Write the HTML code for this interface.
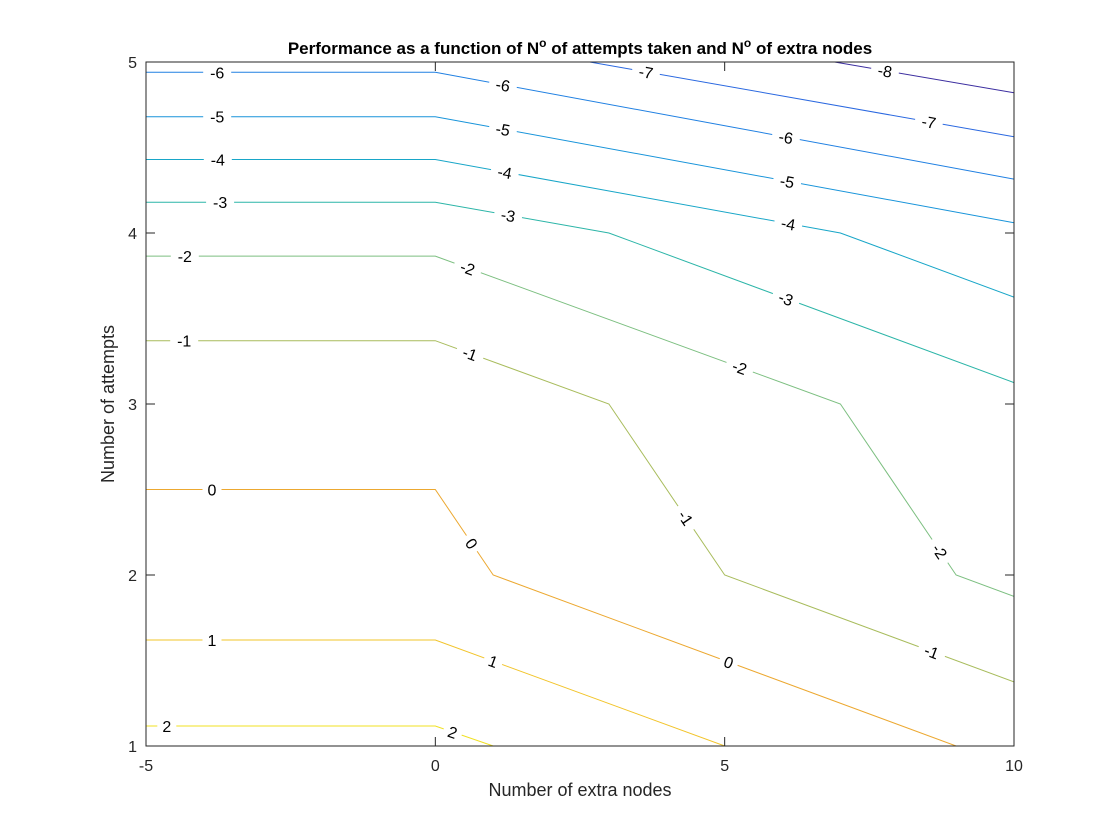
<!DOCTYPE html>
<html><head><meta charset="utf-8"><style>
html,body{margin:0;padding:0;background:#fff;}
svg{display:block;font-family:"Liberation Sans",Arial,sans-serif;}
</style></head><body>
<svg id="chart" width="1120" height="840" viewBox="0 0 1120 840" xmlns="http://www.w3.org/2000/svg">
<rect x="0" y="0" width="1120" height="840" fill="#fff"/>
<text x="580" y="54" text-anchor="middle" font-size="17" font-weight="bold" fill="#000">Performance as a function of N<tspan dy="-7" font-size="12">o</tspan><tspan dy="7"> of attempts taken and N</tspan><tspan dy="-7" font-size="12">o</tspan><tspan dy="7"> of extra nodes</tspan></text>
<g id="plot"></g>
<text x="580" y="796" text-anchor="middle" font-size="18" fill="#262626">Number of extra nodes</text>
<text transform="translate(114,404) rotate(-90)" text-anchor="middle" font-size="18" fill="#262626">Number of attempts</text>
</svg>
<script>
const levels = [2, 1, 0, -1, -2, -3, -4, -5, -6, -7, -8];
const lineXs = [
  [-5, 0, 1],
  [-5, 0, 5],
  [-5, 0, 1, 9],
  [-5, 0, 3, 5, 10],
  [-5, 0, 7, 9, 10],
  [-5, 0, 3, 10],
  [-5, 0, 7, 10],
  [-5, 0, 10],
  [-5, 0, 10],
  [2.67, 10],
  [6.9, 10]
];
const lineYs = [
  [1.117, 1.117, 1],
  [1.62, 1.62, 1],
  [2.5, 2.5, 2, 1],
  [3.37, 3.37, 3, 2, 1.375],
  [3.865, 3.865, 3, 2, 1.875],
  [4.18, 4.18, 4, 3.125],
  [4.43, 4.43, 4, 3.625],
  [4.68, 4.68, 4.06],
  [4.94, 4.94, 4.315],
  [5, 4.5625],
  [5, 4.82]
];
const colors = ['#f0e020','#f2c42a','#eca830','#a8bc5c','#7cbf80','#2cb5a8','#18a6c8','#1894da','#2080e2','#2a68e0','#3c2ea0'];
const labelLevels = [2,2,1,1,0,0,0,-1,-1,-1,-1,-2,-2,-2,-2,-3,-3,-3,-4,-4,-4,-5,-5,-5,-6,-6,-6,-7,-7,-8];
const labelXs = [-4.64,0.3,-3.86,1.0,-3.86,0.63,5.07,-4.34,0.6,4.33,8.58,-4.33,0.56,5.26,8.72,-3.72,1.26,6.06,-3.76,1.2,6.1,-3.77,1.17,6.08,-3.77,1.17,6.06,3.64,8.53,7.77];
const xTicks = [-5, 0, 5, 10];
const yTicks = [1, 2, 3, 4, 5];

const X0=146, X1=1014, Y0=746, Y1=62;
const xMin=-5, xMax=10, yMin=1, yMax=5;
const sx = v => X0 + (v - xMin) / (xMax - xMin) * (X1 - X0);
const sy = v => Y0 - (v - yMin) / (yMax - yMin) * (Y0 - Y1);
const NS = 'http://www.w3.org/2000/svg';
const plot = document.getElementById('plot');
function mk(tag, attrs, parent) {
  const e = document.createElementNS(NS, tag);
  for (const k in attrs) e.setAttribute(k, attrs[k]);
  (parent || plot).appendChild(e);
  return e;
}
const defs = mk('defs', {});
const cp = mk('clipPath', {id: 'clipArea'}, defs);
mk('rect', {x: X0, y: Y1, width: X1 - X0, height: Y0 - Y1}, cp);

const ax = mk('rect', {x: X0, y: Y1, width: X1 - X0, height: Y0 - Y1, fill: '#fff', stroke: 'none'});



const lg = mk('g', {'clip-path': 'url(#clipArea)', 'shape-rendering': 'geometricPrecision'});
levels.forEach((lv, i) => {
  const pts = lineXs[i].map((x, j) => sx(x).toFixed(1) + ',' + sy(lineYs[i][j]).toFixed(1)).join(' ');
  const pl = mk('polyline', {points: pts, fill: 'none', stroke: colors[i], 'stroke-width': 1}, lg);
  
  
});

labelLevels.forEach((lv, k) => {
  const i = levels.indexOf(lv);
  const xs = lineXs[i], ys = lineYs[i];
  const x = labelXs[k];
  let s = 0;
  for (let j = 0; j < xs.length - 1; j++) { if (x >= xs[j] && x <= xs[j+1]) { s = j; break; } if (x > xs[j+1]) s = j; }
  const t = (x - xs[s]) / (xs[s+1] - xs[s]);
  const y = ys[s] + t * (ys[s+1] - ys[s]);
  const px = sx(x), py = sy(y);
  let ang = Math.atan2(sy(ys[s+1]) - sy(ys[s]), sx(xs[s+1]) - sx(xs[s])) * 180 / Math.PI;
  const g = mk('g', {transform: 'translate(' + px.toFixed(1) + ',' + py.toFixed(1) + ') rotate(' + ang.toFixed(1) + ')'});
  const w = String(lv).length * 9 + 10;
  mk('rect', {x: -w/2, y: -9, width: w, height: 18, fill: '#fff'}, g);
  const tx = mk('text', {x: 0, y: 6, 'text-anchor': 'middle', 'font-size': 16, fill: '#000'}, g);
  tx.textContent = String(lv);
  
  
});

const bx = mk('rect', {x: X0, y: Y1, width: X1 - X0, height: Y0 - Y1, fill: 'none', stroke: '#262626', 'stroke-width': 1});



xTicks.forEach(v => {
  const x = sx(v);
  mk('line', {x1: x, y1: Y0, x2: x, y2: Y0 - 9, stroke: '#262626'});
  mk('line', {x1: x, y1: Y1, x2: x, y2: Y1 + 9, stroke: '#262626'});
  const t = mk('text', {x: x, y: Y0 + 25, 'text-anchor': 'middle', 'font-size': 16, fill: '#262626'});
  t.textContent = String(v);
  
  
});
yTicks.forEach(v => {
  const y = sy(v);
  mk('line', {x1: X0, y1: y, x2: X0 + 9, y2: y, stroke: '#262626'});
  mk('line', {x1: X1, y1: y, x2: X1 - 9, y2: y, stroke: '#262626'});
  const t = mk('text', {x: X0 - 9, y: y + 6, 'text-anchor': 'end', 'font-size': 16, fill: '#262626'});
  t.textContent = String(v);
  
  
});
</script>
</body></html>
